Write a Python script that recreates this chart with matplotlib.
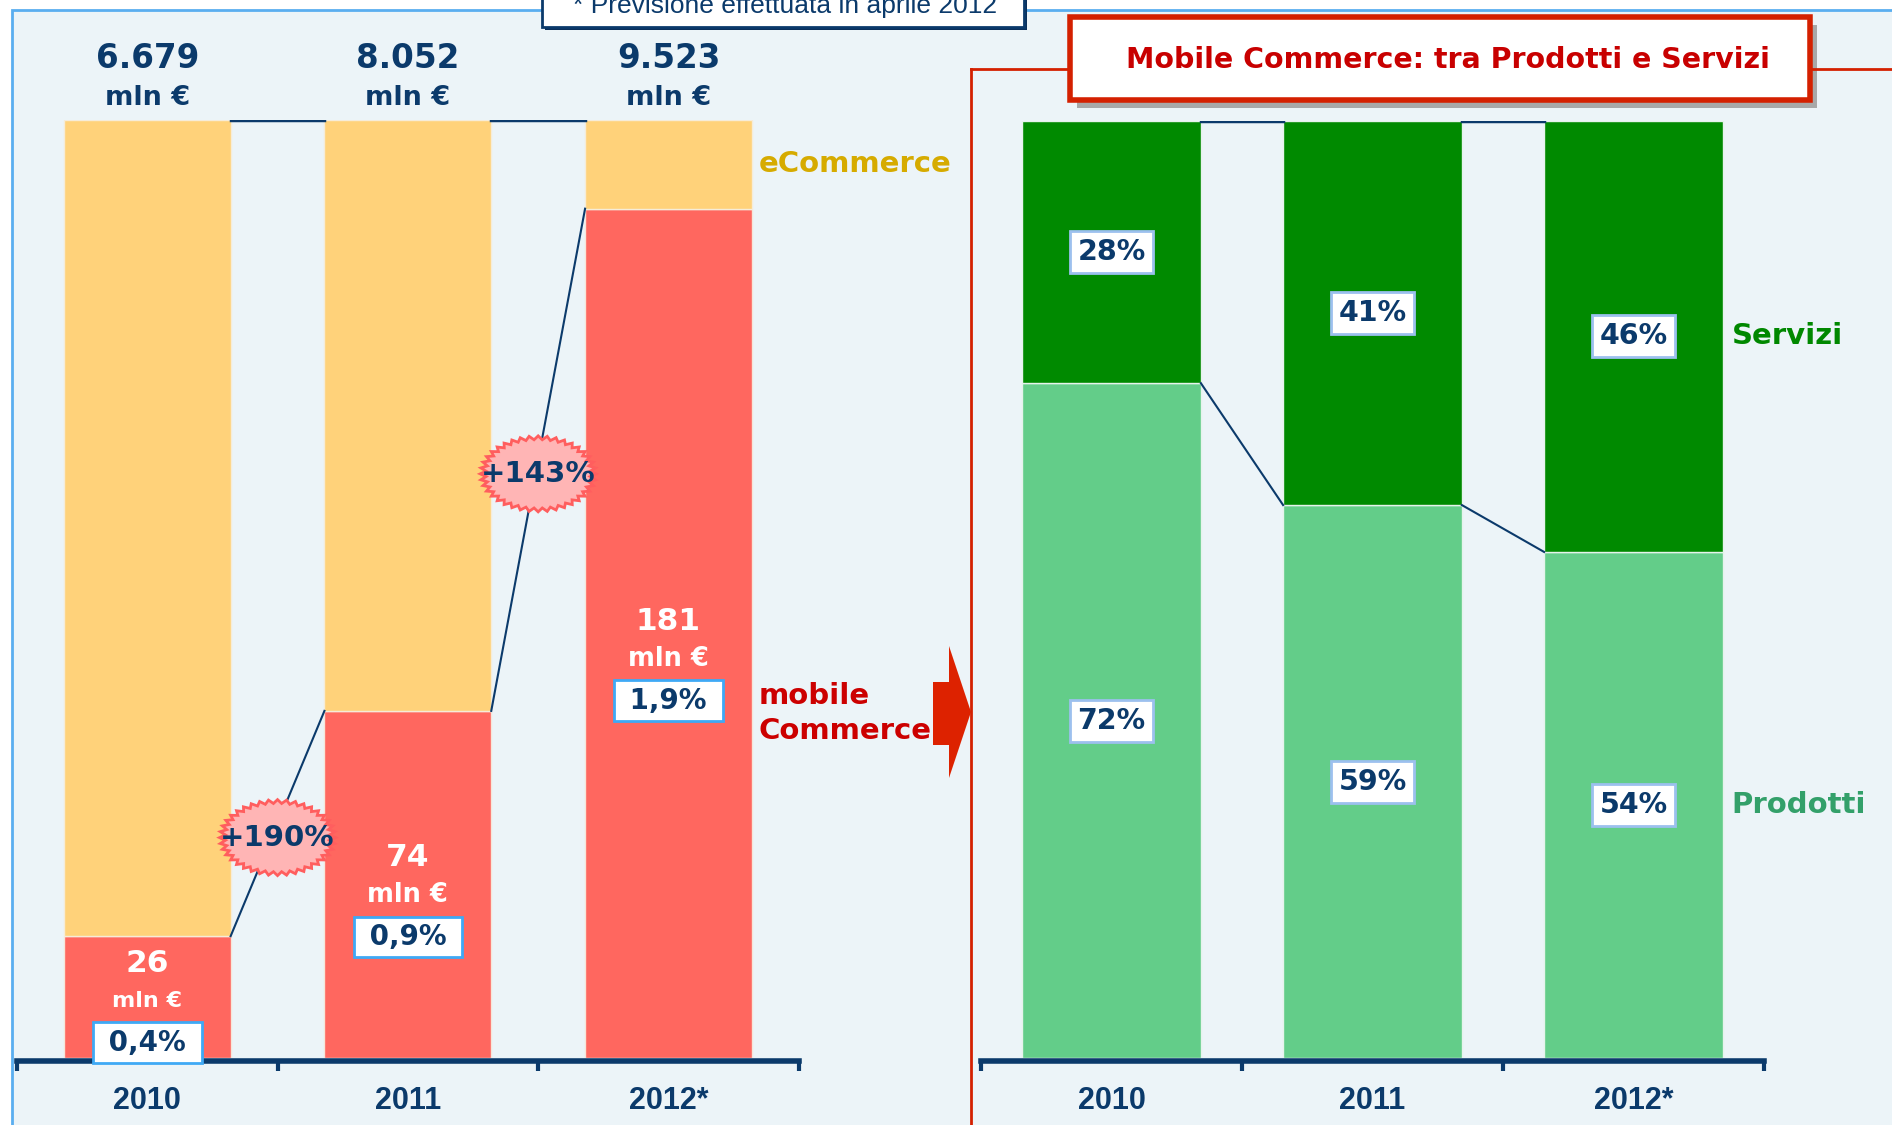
import numpy as np
import matplotlib
matplotlib.use('Agg')
import matplotlib.pyplot as plt
from matplotlib.patches import Rectangle, Polygon
from matplotlib.transforms import IdentityTransform

# ---------------- data ----------------
years = ['2010', '2011', '2012*']
ecommerce_totals = ['6.679', '8.052', '9.523']   # mln €
mobile_values = [26, 74, 181]                     # mln €
mobile_labels = ['26', '74', '181']
mobile_share = ['0,4%', '0,9%', '1,9%']
growth_labels = ['+190%', '+143%']
scale_top = 200                                   # top of the left bar scale
prodotti = [72, 59, 54]
servizi = [28, 41, 46]
note_text = '* Previsione effettuata in aprile 2012'
title_text = 'Mobile Commerce: tra Prodotti e Servizi'

# ---------------- style ----------------
NAVY = '#0b3a6b'
BG = '#ecf4f8'
ECO = '#ffd27a'
MOB = '#ff675f'
SERV = '#008a00'
PROD = '#63cd89'
RED = '#d42000'
W, H = 1892, 1125
plt.rcParams['font.family'] = ['DejaVu Sans']
NARROW = ['Liberation Sans Narrow', 'Liberation Sans']

fig = plt.figure(figsize=(W / 100, H / 100), dpi=100)
fig.patch.set_facecolor('white')

# overlay in pixel coordinates
bg = fig.add_axes([0, 0, 1, 1], zorder=0)
bg.set_xlim(0, W)
bg.set_ylim(H, 0)
bg.axis('off')
bg.add_patch(Rectangle((12, 10), W, H, fc=BG, ec='#5aaef0', lw=2))

# note box (cut off at top, as in the original)
bg.add_patch(Rectangle((545, -10), 482, 39.5, fc='#0a2f5a', ec='none'))
bg.add_patch(Rectangle((542, -10), 482, 36.5, fc='white', ec=NAVY, lw=2))
bg.text(785, 6, note_text, ha='center', va='center', fontsize=19,
        color=NAVY, family=NARROW)

# red frame of right panel
bg.plot([971, 971], [69, H], color=RED, lw=2)
bg.plot([971, 1070], [69, 69], color=RED, lw=2)
bg.plot([1810, W], [69, 69], color=RED, lw=2)
# title box
bg.add_patch(Rectangle((1077, 25), 740, 83, fc='#a8a8a8', ec='none'))
bg.add_patch(Rectangle((1070, 17), 740, 83, fc='white', ec=RED, lw=4))
bg.text(1448, 60, title_text, ha='center', va='center', fontsize=20.5,
        color='#c80000', fontweight='bold')

# block arrow
bg.add_patch(Polygon([(933, 682), (949, 682), (949, 646), (971, 712),
                      (949, 778), (949, 745), (933, 745)],
                     closed=True, fc='#dd2200', ec='none'))

# ---------------- axes ----------------
ybot = 1058.2
ax1 = fig.add_axes([16.9 / W, 1 - ybot / H, (798.8 - 16.9) / W, (ybot - 119.5) / H], zorder=2)
ax2 = fig.add_axes([981 / W, 1 - ybot / H, (1764 - 981) / W, (ybot - 120.7) / H], zorder=2)


def style_axis(ax, ymax):
    ax.set_xlim(-0.5, 2.5)
    ax.set_ylim(0, ymax)
    ax.patch.set_visible(False)
    for s in ['top', 'right', 'left']:
        ax.spines[s].set_visible(False)
    ax.spines['bottom'].set_color(NAVY)
    ax.spines['bottom'].set_linewidth(4)
    ax.spines['bottom'].set_position(('outward', 2))
    ax.set_yticks([])
    ax.set_xticks(range(len(years)))
    ax.set_xticklabels(years, fontsize=22, fontweight='bold', color=NAVY,
                       family=NARROW)
    ax.tick_params(axis='x', which='major', length=0, pad=18)
    ax.set_xticks([-0.5, 0.5, 1.5, 2.5], minor=True)
    ax.tick_params(axis='x', which='minor', length=7, width=3, color=NAVY,
                   direction='out')


style_axis(ax1, scale_top)
style_axis(ax2, 100)

x = np.arange(len(years))
mob = np.array(mobile_values, dtype=float)

# ---------------- left chart ----------------
w1 = 0.64
ax1.bar(x, mob, width=w1, color=MOB, ec='#f6e6da', lw=1, zorder=2)
ax1.bar(x, scale_top - mob, bottom=mob, width=w1, color=ECO, ec='#f6ecd8', lw=1, zorder=2)
for i in range(len(years) - 1):
    ax1.plot([i + w1 / 2, i + 1 - w1 / 2], [mob[i], mob[i + 1]], color=NAVY, lw=1.5, zorder=3)
    ax1.plot([i + w1 / 2, i + 1 - w1 / 2], [scale_top, scale_top], color=NAVY, lw=2.5, zorder=3)

for i in range(len(years)):
    ax1.annotate(ecommerce_totals[i], (x[i], scale_top), xytext=(0, 44),
                 textcoords='offset points', ha='center', va='center',
                 fontsize=23.5, fontweight='bold', color=NAVY)
    ax1.annotate('mln €', (x[i], scale_top), xytext=(0, 15.5),
                 textcoords='offset points', ha='center', va='center',
                 fontsize=19.5, fontweight='bold', color=NAVY)
    anchor = mob[i] * 0.47
    ax1.annotate(mobile_labels[i], (x[i], anchor), xytext=(0, 27),
                 textcoords='offset points', ha='center', va='center',
                 fontsize=22.5, fontweight='bold', color='white', zorder=4)
    ax1.annotate('mln €', (x[i], anchor), xytext=(0, 0),
                 textcoords='offset points', ha='center', va='center',
                 fontsize=16 if i == 0 else 18.5, fontweight='bold',
                 color='white', zorder=4)
    ax1.annotate(' ' + mobile_share[i] + ' ', (x[i], anchor), xytext=(0, -30),
                 textcoords='offset points', ha='center', va='center',
                 fontsize=20, fontweight='bold', color=NAVY, zorder=4,
                 bbox=dict(boxstyle='square,pad=0.22', fc='white', ec='#3fa9f5', lw=2))

ax1.text(2.345, (scale_top + mob[-1]) / 2, 'eCommerce', ha='left', va='center',
         fontsize=21, fontweight='bold', color='#d6ab00')
ax1.text(2.345, 73.5, 'mobile\nCommerce', ha='left', va='center',
         fontsize=21, fontweight='bold', color='#cc0000', linespacing=1.3)

# growth starbursts
fig.canvas.draw()
n = 40
ang = np.linspace(0, 2 * np.pi, 2 * n, endpoint=False)
for i, lab in enumerate(growth_labels):
    cxd, cyd = i + 0.5, (mob[i] + mob[i + 1]) / 2 - 3
    cx, cy = ax1.transData.transform((cxd, cyd))
    r = np.where(np.arange(2 * n) % 2 == 0, 1.0, 0.9)
    px = cx + 58 * r * np.cos(ang)
    py = cy + 38 * r * np.sin(ang)
    ax1.add_patch(Polygon(np.column_stack([px, py]), closed=True,
                          transform=IdentityTransform(), fc='#ffb5b5',
                          ec='#ff5e5e', lw=2, zorder=5))
    ax1.text(cxd, cyd, lab, ha='center', va='center', fontsize=21,
             fontweight='bold', color=NAVY, zorder=6)

# ---------------- right chart ----------------
w2 = 0.685
prod = np.array(prodotti, dtype=float)
serv = np.array(servizi, dtype=float)
ax2.bar(x, prod, width=w2, color=PROD, ec='#e6f3ec', lw=1, zorder=2)
ax2.bar(x, serv, bottom=prod, width=w2, color=SERV, ec='#e6f3ec', lw=1, zorder=2)
for i in range(len(years) - 1):
    ax2.plot([i + w2 / 2, i + 1 - w2 / 2], [prod[i], prod[i + 1]], color=NAVY, lw=1.5, zorder=3)
    ax2.plot([i + w2 / 2, i + 1 - w2 / 2], [100, 100], color=NAVY, lw=2.5, zorder=3)

box2 = dict(boxstyle='square,pad=0.25', fc='white', ec='#9cc0ee', lw=2)
for i in range(len(years)):
    ax2.text(x[i], prod[i] / 2, f'{prodotti[i]}%', ha='center', va='center',
             fontsize=20.5, fontweight='bold', color=NAVY, bbox=box2, zorder=4)
    ax2.text(x[i], prod[i] + serv[i] / 2, f'{servizi[i]}%', ha='center', va='center',
             fontsize=20.5, fontweight='bold', color=NAVY, bbox=box2, zorder=4)

ax2.text(2.375, prod[-1] + serv[-1] / 2, 'Servizi', ha='left', va='center',
         fontsize=21, fontweight='bold', color='#008800')
ax2.text(2.375, prod[-1] / 2, 'Prodotti', ha='left', va='center',
         fontsize=21, fontweight='bold', color='#33a06a')

fig.savefig('out.png', dpi=100)
